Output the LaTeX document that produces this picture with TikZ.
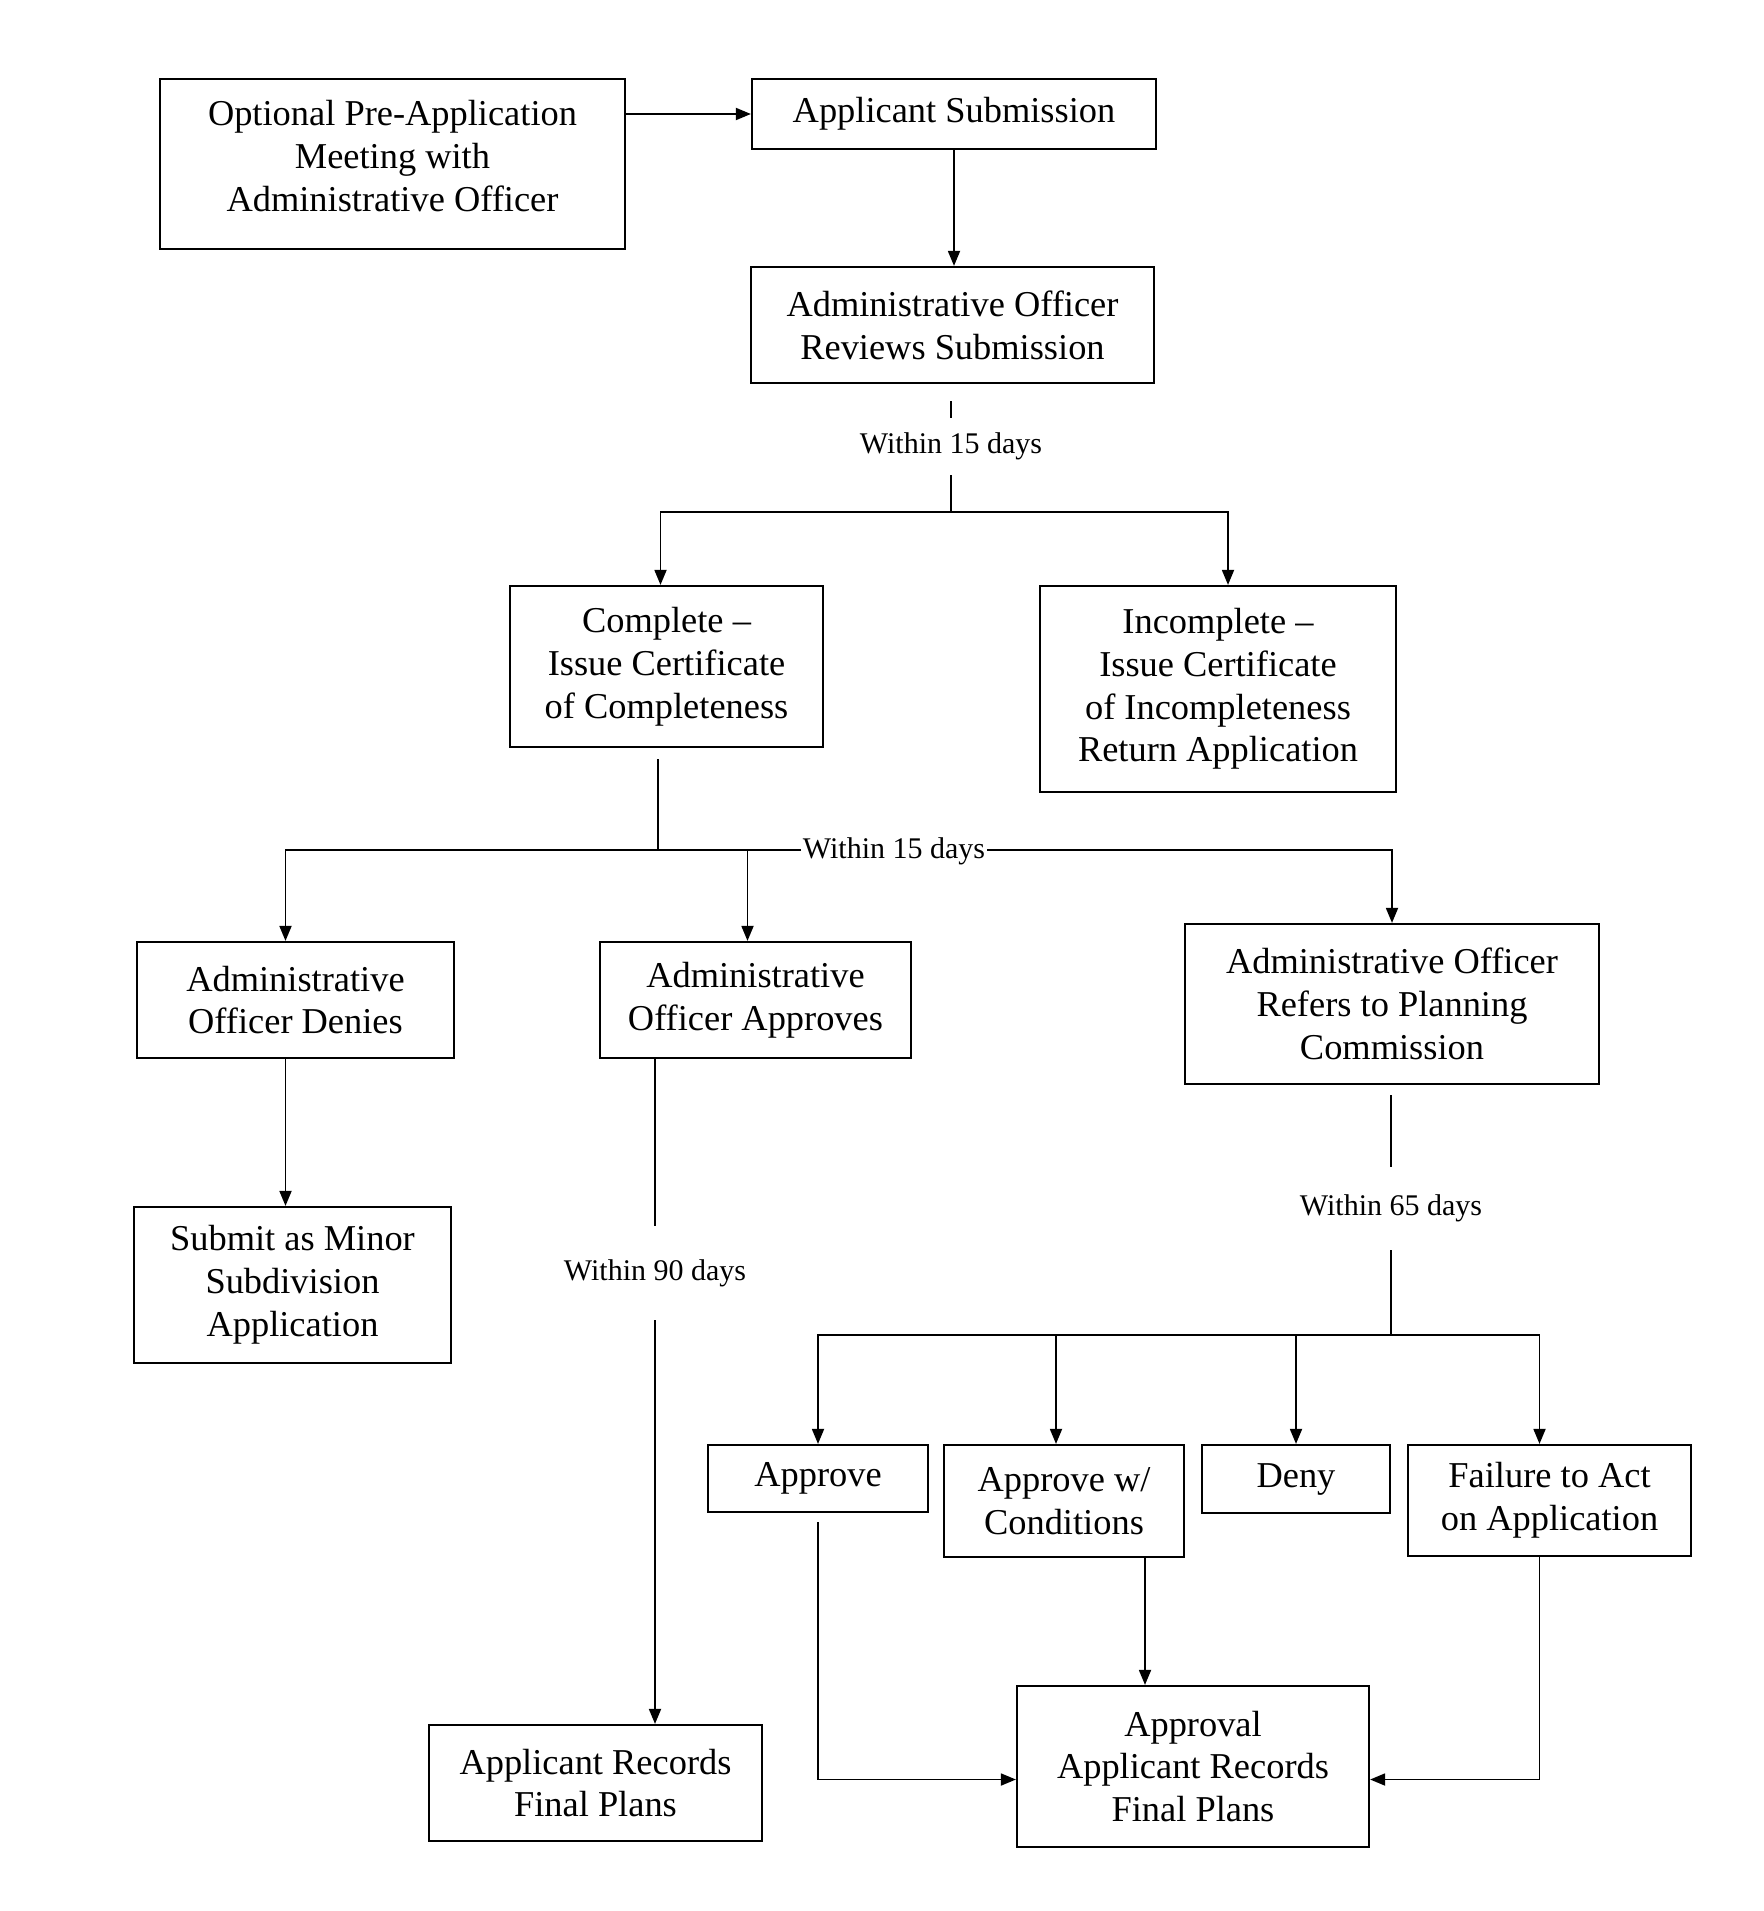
\documentclass[tikz,border=0pt]{standalone}
\usepackage{fontspec}
\setmainfont{Liberation Serif}
\usetikzlibrary{arrows.meta}
\begin{document}
\begin{tikzpicture}[x=0.5pt,y=-0.5pt,
  box/.style={draw, line width=1.1pt, align=center, inner sep=0pt, font=\fontsize{18.2}{21.4}\selectfont},
  wh/.style 2 args={minimum width=#1*0.5pt, minimum height=#2*0.5pt},
  lbl/.style={inner sep=0pt, font=\fontsize{15}{18}\selectfont},
  conn/.style={line width=0.9pt},
  arr/.style={conn, -{Triangle[length=7.5pt,width=6pt]}}]
\useasboundingbox (0,0) rectangle (1764,1911);

% boxes
\node[box, wh={465}{170}, text depth=8pt] (pre) at (392.5,164) {Optional Pre-Application\\Meeting with\\Administrative Officer};
\node[box, wh={404}{70}] (sub) at (954,114) {Applicant Submission};
\node[box, wh={403}{116}] (rev) at (952.5,325) {Administrative Officer\\Reviews Submission};
\node[box, wh={313}{161}] (comp) at (666.5,666.5) {Complete --\\Issue Certificate\\of Completeness};
\node[box, wh={356}{206}] (incomp) at (1218,689) {Incomplete --\\Issue Certificate\\of Incompleteness\\Return Application};
\node[box, wh={317}{116}] (denies) at (295.5,1000) {Administrative\\Officer Denies};
\node[box, wh={311}{116}] (approves) at (755.5,1000) {Administrative\\Officer Approves};
\node[box, wh={414}{160}] (refers) at (1392,1004) {Administrative Officer\\Refers to Planning\\Commission};
\node[box, wh={317}{156}] (minor) at (292.5,1285) {Submit as Minor\\Subdivision\\Application};
\node[box, wh={220}{67}] (appr) at (818,1478.5) {Approve};
\node[box, wh={240}{112}] (apprw) at (1064,1501) {Approve w/\\Conditions};
\node[box, wh={188}{68}] (deny) at (1296,1479) {Deny};
\node[box, wh={283}{111}] (fail) at (1549.5,1500.5) {Failure to Act\\on Application};
\node[box, wh={333}{116}] (recs) at (595.5,1783) {Applicant Records\\Final Plans};
\node[box, wh={352}{161}] (apprl) at (1193,1766.5) {Approval\\Applicant Records\\Final Plans};

% labels on vertical connectors
\node[lbl, minimum height=28.5pt] (w1) at (951,446.5) {Within 15 days};
\node[lbl, minimum height=47pt] (w3) at (655,1273) {Within 90 days};
\node[lbl, minimum height=41.5pt] (w4) at (1391,1208.5) {Within 65 days};

% branch points
\coordinate (b1) at (951,512);
\coordinate (b2) at (658,850);
\coordinate (b4) at (1391,1335);

% connectors
\draw[arr] (pre.east |- sub.west) -- (sub.west);
\draw[arr] (sub.south) -- (sub.south |- rev.north);
\draw[conn] ([yshift=-8.5pt]rev.south -| w1) -- (w1.north);
\draw[conn] (w1.south) -- (b1);
\draw[arr] (b1) -| ([xshift=-3pt]comp.north);
\draw[arr] (b1) -| ([xshift=5pt]incomp.north);

\draw[conn] ([yshift=-5.5pt]comp.south -| b2) -- (b2);
\draw[arr] (b2) -| ([xshift=-5pt]denies.north);
\draw[arr] (b2) -| ([xshift=-4pt]approves.north);
\draw[arr] (b2) -| (refers.north);
\node[lbl, fill=white, inner xsep=1pt, inner ysep=1pt] (w2) at (894,851) {Within 15 days};

\draw[arr] ([xshift=-5pt]denies.south) -- ([xshift=-5pt]denies.south |- minor.north);

\draw[conn] (approves.south -| w3) -- (w3.north);
\draw[arr] (w3.south) -- (w3.south |- recs.north);

\draw[conn] ([yshift=-5pt]refers.south -| w4) -- (w4.north);
\draw[conn] (w4.south) -- (b4);
\draw[arr] (b4) -| (appr.north);
\draw[arr] (b4) -| ([xshift=-4pt]apprw.north);
\draw[arr] (b4) -| (deny.north);
\draw[arr] (b4) -| ([xshift=-5pt]fail.north);

\draw[arr] ([yshift=-4.5pt]appr.south) |- ([yshift=-6.5pt]apprl.west);
\draw[arr] ([xshift=40.5pt]apprw.south) -- ([xshift=40.5pt]apprw.south |- apprl.north);
\draw[arr] ([xshift=-5pt]fail.south) |- ([yshift=-6.5pt]apprl.east);
\end{tikzpicture}
\end{document}
